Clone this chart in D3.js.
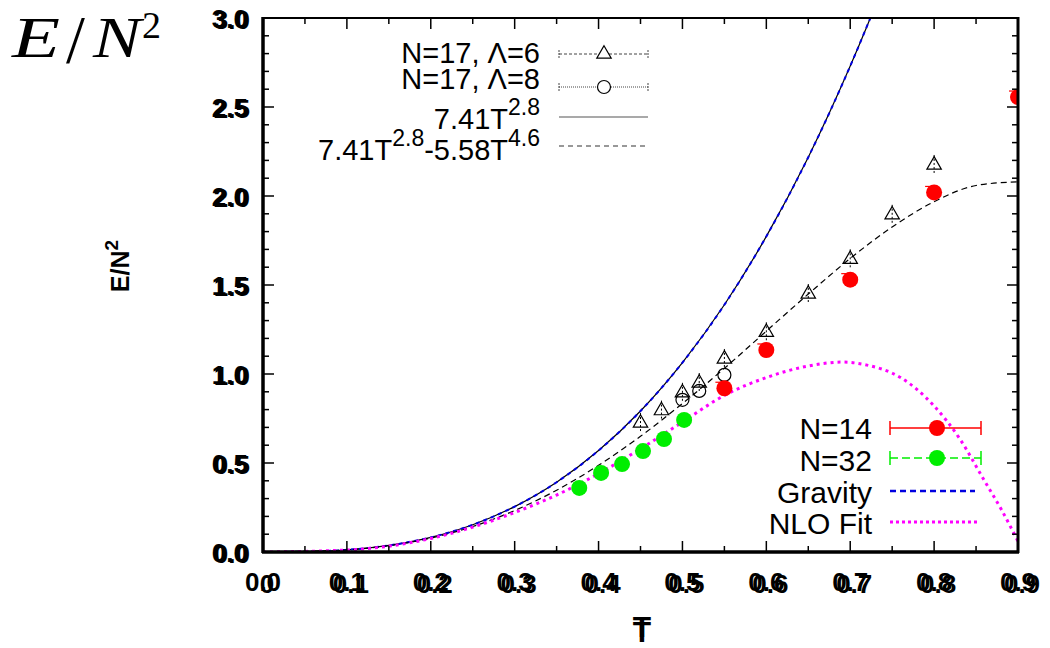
<!DOCTYPE html>
<html>
<head>
<meta charset="utf-8">
<script src="https://cdn.jsdelivr.net/npm/d3@7"></script>
<style>
body{margin:0;background:#fff;}
text{font-family:"Liberation Sans",Arial,sans-serif;}
text.tex{font-family:"Liberation Serif","DejaVu Serif",serif;}
</style>
</head>
<body>
<div id="chart"></div>
<script>
// ---- data ----
var xTicks=[0,0.1,0.2,0.3,0.4,0.5,0.6,0.7,0.8,0.9];
var yTicks=[0,0.5,1.0,1.5,2.0,2.5,3.0];

// N=17, Lambda=6 (open triangles)
var n17l6T=[0.45,0.475,0.5,0.52,0.55,0.6,0.65,0.7,0.75,0.8];
var n17l6E=[0.73,0.80,0.90,0.955,1.09,1.24,1.455,1.65,1.90,2.18];
// N=17, Lambda=8 (open circles)
var n17l8T=[0.5,0.52,0.55];
var n17l8E=[0.855,0.905,0.995];
// N=14 (red)
var n14T=[0.55,0.6,0.7,0.8,0.9];
var n14E=[0.92,1.135,1.53,2.02,2.556];
// N=32 (green)
var n32T=[0.377,0.403,0.428,0.453,0.478,0.502];
var n32E=[0.36,0.444,0.494,0.567,0.635,0.742];

// curves
var curveT=[0,0.05,0.1,0.15,0.2,0.25,0.3,0.35,0.4,0.45,0.5,0.55,0.6,0.65,0.7,0.72,0.73];
var powerE=[0,0.002,0.012,0.037,0.082,0.153,0.255,0.392,0.570,0.792,1.064,1.389,1.773,2.218,2.730,2.954,3.07];
var gravityE=powerE; // gravity line lies on top of 7.41T^2.8
var nloCorrT=[0,0.1,0.15,0.2,0.25,0.3,0.35,0.4,0.45,0.5,0.55,0.6,0.65,0.7,0.75,0.8,0.85,0.9];
var nloCorrE=[0,0.012,0.036,0.078,0.143,0.233,0.347,0.487,0.650,0.834,1.032,1.241,1.449,1.649,1.826,1.968,2.059,2.080];
var nloFitT=[0,0.1,0.2,0.25,0.3,0.35,0.4,0.45,0.5,0.55,0.6,0.65,0.69,0.72,0.76,0.8,0.83,0.86,0.88,0.9];
var nloFitE=[0,0.011,0.076,0.14,0.222,0.32,0.44,0.58,0.73,0.88,0.98,1.045,1.067,1.05,0.98,0.82,0.64,0.40,0.24,0.06];

var w=1050,h=648,
    svg=d3.select("#chart").append("svg").attr("width",w).attr("height",h);

var x=d3.scaleLinear().domain([0,0.9]).range([263,1018]);
var y=d3.scaleLinear().domain([0,3]).range([552,18]);

function pts(ts,es){ return ts.map(function(t,i){ return [t,es[i]]; }); }

svg.append("defs").append("clipPath").attr("id","clip")
  .append("rect").attr("x",263).attr("y",18).attr("width",755).attr("height",534);

var plot=svg.append("g").attr("clip-path","url(#clip)");
var line=d3.line().x(function(d){return x(d[0]);}).y(function(d){return y(d[1]);}).curve(d3.curveMonotoneX);

// curves
plot.append("path").attr("d",line(pts(curveT,powerE)))
  .attr("fill","none").attr("stroke","#000").attr("stroke-width",1.2);
plot.append("path").attr("d",line(pts(curveT,gravityE)))
  .attr("fill","none").attr("stroke","#0000e0").attr("stroke-width",2).attr("stroke-dasharray","4,4");
plot.append("path").attr("d",line(pts(nloCorrT,nloCorrE)))
  .attr("fill","none").attr("stroke","#000").attr("stroke-width",1.2).attr("stroke-dasharray","6,4");
plot.append("path").attr("d",line(pts(nloFitT,nloFitE)))
  .attr("fill","none").attr("stroke","#ff00ff").attr("stroke-width",3).attr("stroke-dasharray","3,4");

// triangles N=17 L=6
var tri=d3.symbol().type(d3.symbolTriangle).size(90);
plot.selectAll(".tri").data(pts(n17l6T,n17l6E)).enter().append("path")
  .attr("d",tri)
  .attr("transform",function(d){return "translate("+x(d[0])+","+(y(d[1])+1)+")";})
  .attr("fill","none").attr("stroke","#000").attr("stroke-width",1.2);
plot.selectAll(".tribar").data(pts(n17l6T,n17l6E)).enter().append("line")
  .attr("x1",function(d){return x(d[0]);}).attr("x2",function(d){return x(d[0]);})
  .attr("y1",function(d){return y(d[1])-9;}).attr("y2",function(d){return y(d[1])+9;})
  .attr("stroke","#000").attr("stroke-width",1).attr("stroke-dasharray","2,2");

// circles N=17 L=8
plot.selectAll(".circ").data(pts(n17l8T,n17l8E)).enter().append("circle")
  .attr("cx",function(d){return x(d[0]);}).attr("cy",function(d){return y(d[1]);})
  .attr("r",6.5).attr("fill","none").attr("stroke","#000").attr("stroke-width",1.2);

// N=14 red
plot.selectAll(".red").data(pts(n14T,n14E)).enter().append("circle")
  .attr("cx",function(d){return x(d[0]);}).attr("cy",function(d){return y(d[1]);})
  .attr("r",8).attr("fill","#ff0000");
plot.selectAll(".redbar").data(pts(n14T,n14E)).enter().append("line")
  .attr("x1",function(d){return x(d[0])-9;}).attr("x2",function(d){return x(d[0]);})
  .attr("y1",function(d){return y(d[1])-6;}).attr("y2",function(d){return y(d[1])-6;})
  .attr("stroke","#ff0000").attr("stroke-width",1.2);

// N=32 green
plot.selectAll(".green").data(pts(n32T,n32E)).enter().append("circle")
  .attr("cx",function(d){return x(d[0]);}).attr("cy",function(d){return y(d[1]);})
  .attr("r",8).attr("fill","#00ee00");

// frame
svg.append("rect").attr("x",263).attr("y",18).attr("width",755).attr("height",534)
  .attr("fill","none").attr("stroke","#000").attr("stroke-width",2);
svg.append("line").attr("x1",263).attr("x2",263).attr("y1",17).attr("y2",553).attr("stroke","#000").attr("stroke-width",3.5);
svg.append("line").attr("x1",262).attr("x2",1019).attr("y1",552).attr("y2",552).attr("stroke","#000").attr("stroke-width",3.5);
svg.append("line").attr("x1",1018).attr("x2",1018).attr("y1",17).attr("y2",553).attr("stroke","#000").attr("stroke-width",3);

// ticks
var ax=svg.append("g").attr("stroke","#000").attr("stroke-width",1.5);
d3.range(0,0.9001,0.05).forEach(function(t,i){
  var len=(i%2===0)?11:6;
  ax.append("line").attr("x1",x(t)).attr("x2",x(t)).attr("y1",552).attr("y2",552-len);
  ax.append("line").attr("x1",x(t)).attr("x2",x(t)).attr("y1",18).attr("y2",18+len);
});
d3.range(0,3.001,0.1).forEach(function(v,i){
  var len=(i%5===0)?11:6;
  ax.append("line").attr("x1",263).attr("x2",263+len).attr("y1",y(v)).attr("y2",y(v));
  ax.append("line").attr("x1",1018).attr("x2",1018-len).attr("y1",y(v)).attr("y2",y(v));
});

// tick labels (doubled, the picture overlays two plots)
var lab=svg.append("g").attr("font-weight","bold").attr("font-size",26).attr("fill","#000");
xTicks.forEach(function(t){
  lab.append("text").attr("x",x(t)).attr("y",591).attr("text-anchor","middle").text(t.toFixed(1));
  lab.append("text").attr("x",x(t)+4).attr("y",593).attr("text-anchor","middle").text(t===0?"0":t.toFixed(1));
});
yTicks.forEach(function(v){
  lab.append("text").attr("x",248).attr("y",y(v)+10).attr("text-anchor","end").text(v.toFixed(1));
  lab.append("text").attr("x",250).attr("y",y(v)+11).attr("text-anchor","end").text(v.toFixed(1));
});

// axis titles
svg.append("text").attr("x",642).attr("y",642).attr("text-anchor","middle")
  .attr("font-weight","bold").attr("font-size",30).text("T");
svg.append("text").attr("x",642).attr("y",637).attr("text-anchor","middle")
  .attr("font-weight","bold").attr("font-size",30).text("T");
var yl=svg.append("text").attr("transform","translate(129,266) rotate(-90)")
  .attr("text-anchor","middle").attr("font-weight","bold").attr("font-size",25);
yl.append("tspan").text("E/N");
yl.append("tspan").attr("dy",-11).attr("font-size",19).text("2");

var big=svg.append("g").attr("font-size",58);
big.append("text").attr("class","tex").attr("x",12).attr("y",57).attr("font-style","italic")
  .attr("textLength",48).attr("lengthAdjust","spacingAndGlyphs").text("E");
big.append("text").attr("class","tex").attr("x",66).attr("y",62).attr("font-size",68).text("/");
big.append("text").attr("class","tex").attr("x",93).attr("y",57).attr("font-style","italic")
  .attr("textLength",48).attr("lengthAdjust","spacingAndGlyphs").text("N");
big.append("text").attr("class","tex").attr("x",142).attr("y",38).attr("font-size",38).text("2");

// top legend
var lg=svg.append("g").attr("font-size",29);
lg.append("text").attr("x",540).attr("y",63).attr("text-anchor","end").text("N=17, Λ=6");
lg.append("text").attr("x",540).attr("y",89).attr("text-anchor","end").text("N=17, Λ=8");
var l3=lg.append("text").attr("x",540).attr("y",129).attr("text-anchor","end");
l3.append("tspan").text("7.41T");
l3.append("tspan").attr("dy",-14).attr("font-size",23).text("2.8");
var l4=lg.append("text").attr("x",540).attr("y",160).attr("text-anchor","end");
l4.append("tspan").text("7.41T");
l4.append("tspan").attr("dy",-14).attr("font-size",23).text("2.8");
l4.append("tspan").attr("dy",14).text("-5.58T");
l4.append("tspan").attr("dy",-14).attr("font-size",23).text("4.6");

var lgl=svg.append("g").attr("fill","none");
lgl.append("line").attr("x1",559).attr("x2",648).attr("y1",54).attr("y2",54).attr("stroke","#444").attr("stroke-width",1).attr("stroke-dasharray","3,2");
lgl.append("path").attr("d",tri).attr("transform","translate(604,54)").attr("stroke","#000").attr("stroke-width",1.2).attr("fill","#fff");
lgl.append("line").attr("x1",559).attr("x2",648).attr("y1",87).attr("y2",87).attr("stroke","#444").attr("stroke-width",1).attr("stroke-dasharray","1,1");
lgl.append("circle").attr("cx",604).attr("cy",87).attr("r",6.5).attr("stroke","#000").attr("stroke-width",1.2).attr("fill","#fff");
lgl.append("line").attr("x1",559).attr("x2",648).attr("y1",117).attr("y2",117).attr("stroke","#555").attr("stroke-width",1.2);
lgl.append("line").attr("x1",559).attr("x2",648).attr("y1",146).attr("y2",146).attr("stroke","#333").attr("stroke-width",1.2).attr("stroke-dasharray","5,4");
[54,87].forEach(function(yy){
  lgl.append("line").attr("x1",559).attr("x2",559).attr("y1",yy-4).attr("y2",yy+4).attr("stroke","#444").attr("stroke-dasharray","2,1");
  lgl.append("line").attr("x1",648).attr("x2",648).attr("y1",yy-4).attr("y2",yy+4).attr("stroke","#444").attr("stroke-dasharray","2,1");
});

// bottom legend
var lb=svg.append("g").attr("font-size",30).attr("fill","#000");
lb.append("text").attr("x",872).attr("y",439).attr("text-anchor","end").text("N=14");
lb.append("text").attr("x",872).attr("y",471).attr("text-anchor","end").text("N=32");
lb.append("text").attr("x",872).attr("y",503).attr("text-anchor","end").text("Gravity");
lb.append("text").attr("x",872).attr("y",534).attr("text-anchor","end").text("NLO Fit");

var lbl=svg.append("g").attr("fill","none");
lbl.append("line").attr("x1",890).attr("x2",981).attr("y1",428).attr("y2",428).attr("stroke","#ff0000").attr("stroke-width",1.5);
lbl.append("line").attr("x1",890).attr("x2",890).attr("y1",421).attr("y2",435).attr("stroke","#ff0000").attr("stroke-width",1.5);
lbl.append("line").attr("x1",981).attr("x2",981).attr("y1",421).attr("y2",435).attr("stroke","#ff0000").attr("stroke-width",1.5);
lbl.append("circle").attr("cx",937).attr("cy",428).attr("r",8).attr("fill","#ff0000");
lbl.append("line").attr("x1",890).attr("x2",981).attr("y1",458).attr("y2",458).attr("stroke","#00ee00").attr("stroke-width",1.5).attr("stroke-dasharray","8,4");
lbl.append("line").attr("x1",890).attr("x2",890).attr("y1",451).attr("y2",465).attr("stroke","#00ee00").attr("stroke-width",1.5);
lbl.append("line").attr("x1",981).attr("x2",981).attr("y1",451).attr("y2",465).attr("stroke","#00ee00").attr("stroke-width",1.5);
lbl.append("circle").attr("cx",937).attr("cy",458).attr("r",8).attr("fill","#00ee00");
lbl.append("line").attr("x1",890).attr("x2",975).attr("y1",491).attr("y2",491).attr("stroke","#0000e0").attr("stroke-width",2.5).attr("stroke-dasharray","6,4");
lbl.append("line").attr("x1",890).attr("x2",978).attr("y1",522).attr("y2",522).attr("stroke","#ff00ff").attr("stroke-width",3).attr("stroke-dasharray","3,3");
</script>
</body>
</html>
